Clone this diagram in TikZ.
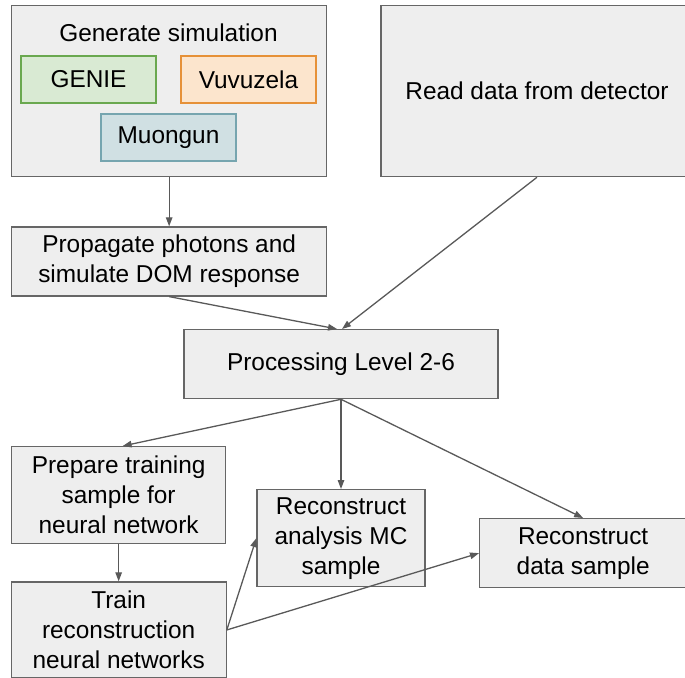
\documentclass[tikz,border=0pt]{standalone}
\usepackage{fontspec}
\setmainfont{Liberation Sans}
\usetikzlibrary{positioning, arrows.meta}
\definecolor{boxgrey}{RGB}{238,238,238}
\definecolor{edgegrey}{RGB}{102,102,102}
\definecolor{arrowgrey}{RGB}{89,89,89}
\definecolor{genieFill}{RGB}{217,234,211}
\definecolor{genieDraw}{RGB}{106,168,79}
\definecolor{vuvuFill}{RGB}{252,229,205}
\definecolor{vuvuDraw}{RGB}{230,145,56}
\definecolor{muonFill}{RGB}{208,224,227}
\definecolor{muonDraw}{RGB}{118,165,175}

\begin{document}
\begin{tikzpicture}[
  x=1pt, y=-1pt,
  font=\fontsize{24.4}{30}\selectfont,
  procbox/.style={draw=edgegrey, fill=boxgrey, line width=1.3pt, align=center, inner sep=0pt},
  simbox/.style={draw, line width=1.3pt, minimum width=135pt, minimum height=47pt, inner sep=0pt},
  flow/.style={-{Triangle[length=9pt, width=6.5pt]}, draw=arrowgrey, line width=1.3pt}
]
\useasboundingbox (0,0) rectangle (685,677);

% Top left: simulation chain
\node[procbox, minimum width=315pt, minimum height=171pt, anchor=north west] (gen) at (11,5) {};
\node[anchor=base] (gentitle) at (168.5,41.5) {Generate simulation};
\node[simbox, fill=genieFill, draw=genieDraw] (genie) at (88.5,79.5) {GENIE};
\node[simbox, fill=vuvuFill, draw=vuvuDraw] (vuvu) at (248.5,79.5) {Vuvuzela};
\node[simbox, fill=muonFill, draw=muonDraw] (muon) at (168.5,137.5) {Muongun};

% Top right: detector data
\node[procbox, minimum width=312pt, minimum height=171pt, right=53pt of gen] (read) {Read data from detector};

% Middle
\node[procbox, minimum width=315pt, minimum height=69pt, below=49pt of gen] (prop) {Propagate photons and\\simulate DOM response};
\node[procbox, minimum width=314pt, minimum height=69pt, anchor=north] (proc) at (341,329) {Processing Level 2-6};

% Bottom: training and reconstruction
\node[procbox, minimum width=214pt, minimum height=97pt, anchor=north west] (prep) at (11,446) {Prepare training\\sample for\\neural network};
\node[procbox, minimum width=215pt, minimum height=96pt, below=37pt of prep] (train) {Train\\reconstruction\\neural networks};
\node[procbox, minimum width=168pt, minimum height=97pt, anchor=north] (anl) at (341,489) {Reconstruct\\analysis MC\\sample};
\node[procbox, minimum width=207pt, minimum height=69pt, anchor=north west] (data) at (479,518) {Reconstruct\\data sample};

% Edges
\draw[flow] (gen) -- (prop);
\draw[flow] (prop.south) -- ([xshift=-4pt]proc.north);
\draw[flow] (read.south) -- ([xshift=1pt]proc.north);
\draw[flow] (proc.south) -- ([xshift=4pt]prep.north);
\draw[flow] (proc.south) -- (anl.north);
\draw[flow] (proc.south) -- (data.north);
\draw[flow] (prep) -- (train);
\draw[flow] (train.east) -- (anl.west);
\draw[flow] (train.east) -- (data.west);
\end{tikzpicture}
\end{document}
